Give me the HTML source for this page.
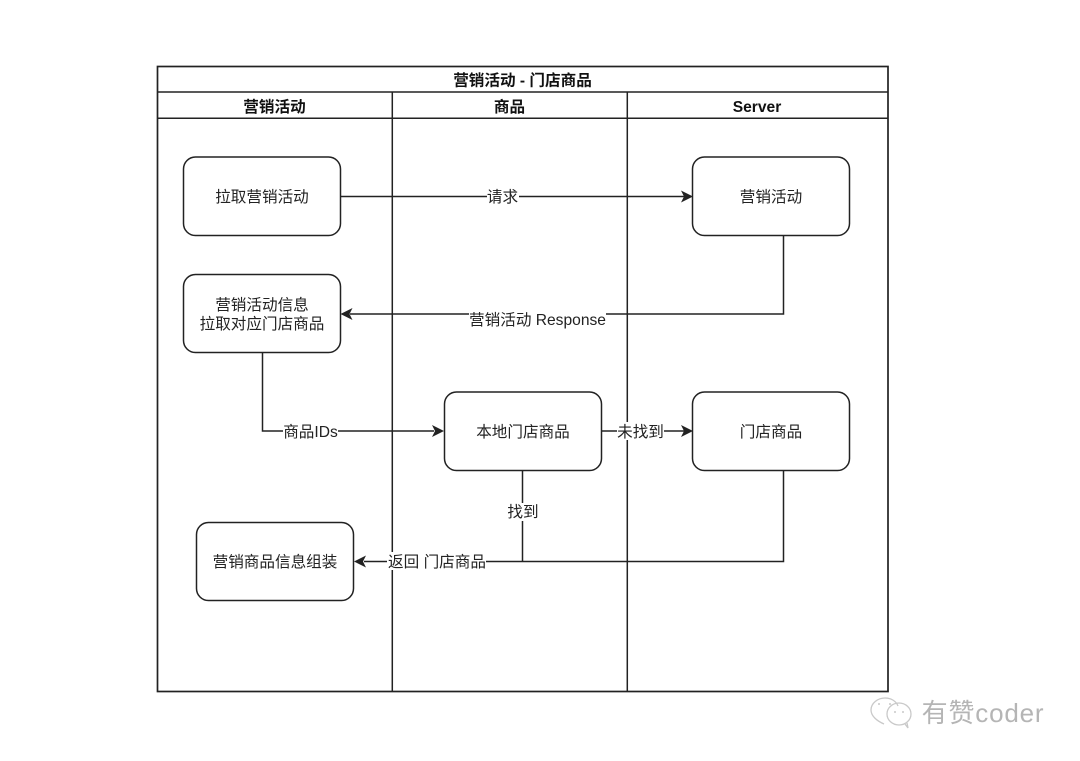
<!DOCTYPE html>
<html>
<head>
<meta charset="utf-8">
<style>
html,body{margin:0;padding:0;background:#fff;width:1080px;height:761px;overflow:hidden}
svg{display:block}
text{font-family:"Liberation Sans","Noto Sans CJK SC",sans-serif;font-size:15.6px;fill:#222;text-anchor:middle}
.b{font-weight:bold;fill:#111}
.r{fill:#fff;stroke:#222;stroke-width:1.5}
.l{fill:none;stroke:#222;stroke-width:1.5}
.h{fill:#222;stroke:none}
.m{fill:#fff;stroke:none}
</style>
</head>
<body>
<svg width="1080" height="761" viewBox="0 0 1080 761" xmlns="http://www.w3.org/2000/svg">
<rect x="157.5" y="66.5" width="730.5" height="625" fill="#fff" stroke="#222" stroke-width="1.7"/>
<path class="l" d="M157.5 92H888M157.5 118.300H888M392.300 92V691.500M627.300 92V691.500" stroke-width="1.7"/>
<text class="b" x="522.500" y="85.500">营销活动 - 门店商品</text>
<text class="b" x="274.500" y="112">营销活动</text>
<text class="b" x="509.500" y="112">商品</text>
<text class="b" x="757" y="112">Server</text>

<path class="l" d="M340 196.500H684"/>
<path class="h" d="M693 196.500L681 190.500L684 196.500L681 202.500Z"/>
<path class="l" d="M783.500 235.500V314H350"/>
<path class="h" d="M340.500 314L352.500 308L349.500 314L352.500 320Z"/>
<path class="l" d="M262.500 352.500V431H434"/>
<path class="h" d="M444 431L432 425L435 431L432 437Z"/>
<path class="l" d="M601 431H684"/>
<path class="h" d="M693 431L681 425L684 431L681 437Z"/>
<path class="l" d="M783.500 470.500V561.500H364"/>
<path class="h" d="M354 561.500L366 555.500L363 561.500L366 567.500Z"/>
<path class="l" d="M522.500 470.500V561.500"/>

<rect class="r" x="183.500" y="157" width="157" height="78.500" rx="12"/>
<rect class="r" x="692.500" y="157" width="157" height="78.500" rx="12"/>
<rect class="r" x="183.500" y="274.500" width="157" height="78" rx="12"/>
<rect class="r" x="444.500" y="392" width="157" height="78.500" rx="12"/>
<rect class="r" x="692.500" y="392" width="157" height="78.500" rx="12"/>
<rect class="r" x="196.500" y="522.500" width="157" height="78" rx="12"/>

<text x="262" y="202">拉取营销活动</text>
<text x="771" y="202">营销活动</text>
<text x="262" y="310">营销活动信息</text>
<text x="262" y="329">拉取对应门店商品</text>
<text x="523" y="437">本地门店商品</text>
<text x="771" y="437">门店商品</text>
<text x="275" y="567">营销商品信息组装</text>

<rect class="m" x="487" y="187" width="32" height="19"/>
<text x="502.500" y="202">请求</text>
<rect class="m" x="469" y="311" width="137" height="18"/>
<text x="537.500" y="325">营销活动 Response</text>
<rect class="m" x="283" y="422" width="55" height="18"/>
<text x="310.500" y="437">商品IDs</text>
<rect class="m" x="617" y="422" width="47" height="18"/>
<text x="640.500" y="437">未找到</text>
<rect class="m" x="507" y="503" width="32" height="18"/>
<text x="523" y="517">找到</text>
<rect class="m" x="387" y="552" width="99" height="18"/>
<text x="437" y="567">返回 门店商品</text>

<g fill="none" stroke="#c9c9c9" stroke-width="1.300">
<path d="M884 724c-7-3-13-8-13-14 0-7 7-12 14-12 6 0 11 3 13 8"/>
<ellipse cx="899" cy="714" rx="12" ry="11"/>
<path d="M905 724l3 4-1-5"/>
</g>
<g fill="#c9c9c9"><circle cx="879" cy="704" r="1"/><circle cx="890" cy="704" r="1"/><circle cx="895" cy="712" r="1"/><circle cx="903" cy="712" r="1"/></g>
<text x="983" y="722" style="font-size:26px;fill:#b5b5b5;letter-spacing:0.8px">有赞coder</text>
</svg>
</body>
</html>
